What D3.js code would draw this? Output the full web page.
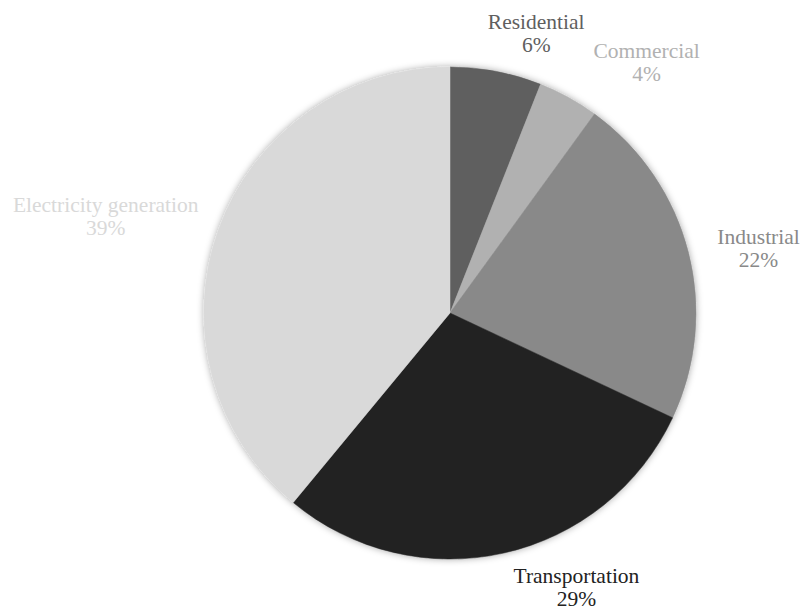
<!DOCTYPE html>
<html>
<head>
<meta charset="utf-8">
<script src="https://cdn.jsdelivr.net/npm/d3@7"></script>
<style>
  html, body { margin: 0; padding: 0; background: #ffffff; }
  svg { display: block; }
</style>
</head>
<body>
<svg id="chart" width="800" height="611"></svg>
<script>
// Sources of emissions, share of total (%)
const sectors = ["Residential", "Commercial", "Industrial", "Transportation", "Electricity generation"];
const shares = [6, 4, 22, 29, 39];
const sliceColors = ["#5f5f5f", "#b1b1b1", "#898989", "#222222", "#d9d9d9"];

// Label placement: distance from centre and small per-label offsets
const labelRadius = 300;
const labelNudge = [[30, 11], [52, 8], [18, 6], [61, -23], [-62, 1]];

const width = 800, height = 611;
const cx = 450, cy = 313, radius = 246;
const fontSize = 21.5, lineGap = 23;
const serif = "'Liberation Serif', 'Times New Roman', serif";

const svg = d3.select("#chart");

const defs = svg.append("defs");
const shadow = defs.append("filter")
  .attr("id", "pieShadow")
  .attr("x", "-20%").attr("y", "-20%")
  .attr("width", "140%").attr("height", "140%");
shadow.append("feDropShadow")
  .attr("dx", 0).attr("dy", 0)
  .attr("stdDeviation", 3.5)
  .attr("flood-color", "#000")
  .attr("flood-opacity", 0.35);

const data = sectors.map((name, i) => ({ name, value: shares[i], color: sliceColors[i] }));

const pie = d3.pie().value(d => d.value).sort(null);
const arcs = pie(data);
const arc = d3.arc().innerRadius(0).outerRadius(radius);

const g = svg.append("g").attr("transform", `translate(${cx},${cy})`);

g.append("g")
  .attr("filter", "url(#pieShadow)")
  .selectAll("path")
  .data(arcs)
  .join("path")
  .attr("d", arc)
  .attr("fill", d => d.data.color)
  .attr("stroke", d => d.data.color)
  .attr("stroke-width", 0.5);

const labels = g.append("g")
  .selectAll("text")
  .data(arcs)
  .join("text")
  .attr("text-anchor", "middle")
  .attr("font-family", serif)
  .attr("font-size", fontSize)
  .attr("fill", d => d.data.color)
  .attr("transform", (d, i) => {
    const a = (d.startAngle + d.endAngle) / 2;
    const x = labelRadius * Math.sin(a) + labelNudge[i][0];
    const y = -labelRadius * Math.cos(a) + labelNudge[i][1];
    return `translate(${x},${y})`;
  });

labels.append("tspan")
  .attr("x", 0).attr("y", 0)
  .text(d => d.data.name);
labels.append("tspan")
  .attr("x", 0).attr("y", lineGap)
  .text(d => d.data.value + "%");
</script>
</body>
</html>
